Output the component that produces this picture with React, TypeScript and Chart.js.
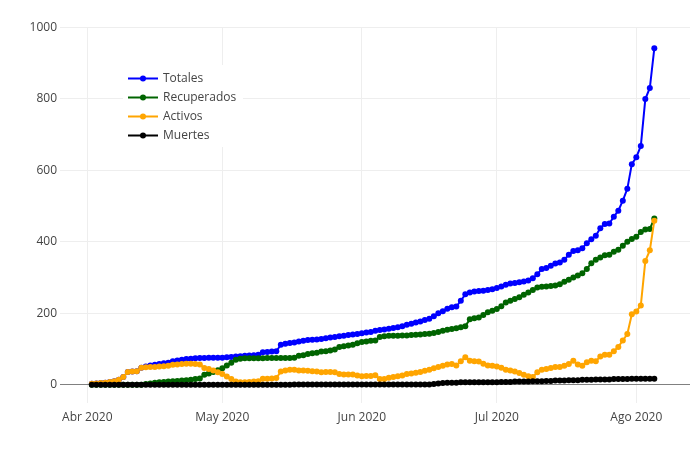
import React, { useEffect, useRef } from 'react';
import { Chart, registerables } from 'chart.js';

Chart.register(...registerables);

// Daily series starting on START_DATE (one value per day)
const START_DATE = '2020-04-02';

const totales = [
  3, 4, 5, 6, 8, 10, 14, 22, 36, 37,
  38, 48, 51, 54, 56, 58, 60, 62, 66, 68,
  70, 72, 73, 74, 75, 75, 76, 76, 76, 76,
  77, 78, 79, 80, 81, 82, 83, 84, 91, 92,
  93, 94, 112, 115, 117, 118, 121, 123, 125, 126,
  127, 128, 130, 132, 134, 136, 137, 139, 141, 142,
  144, 146, 148, 151, 153, 155, 157, 159, 161, 164,
  168, 171, 174, 177, 181, 185, 192, 200, 206, 213,
  217, 219, 235, 253, 258, 261, 262, 263, 265, 267,
  271, 275, 280, 283, 285, 287, 289, 292, 298, 309,
  324, 327, 333, 339, 342, 350, 364, 374, 376, 382,
  396, 407, 417, 438, 450, 451, 470, 487, 515, 548,
  617, 636, 668, 799, 830, 941,
];

const recuperados = [
  0, 0, 0, 0, 0, 0, 0, 0, 0, 0,
  0, 0, 2, 4, 6, 7, 8, 9, 10, 11,
  12, 13, 14, 16, 18, 28, 32, 36, 41, 46,
  54, 62, 70, 73, 74, 74, 74, 74, 74, 75,
  75, 75, 75, 75, 75, 76, 81, 83, 86, 88,
  90, 93, 94, 96, 99, 106, 108, 110, 112, 116,
  120, 121, 123, 124, 134, 136, 137, 137, 137, 138,
  138, 139, 140, 141, 142, 143, 145, 148, 151, 154,
  156, 158, 161, 164, 183, 186, 188, 195, 203, 207,
  212, 220, 230, 235, 240, 245, 252, 258, 265, 272,
  274, 275, 276, 278, 281, 288, 294, 300, 306, 312,
  324, 340, 350, 356, 362, 364, 372, 378, 389, 400,
  408, 414, 427, 434, 436, 465,
];

const activos = [
  3, 4, 5, 6, 8, 10, 14, 22, 36, 37,
  38, 48, 49, 50, 50, 51, 52, 53, 56, 57,
  58, 59, 59, 58, 57, 47, 44, 40, 35, 30,
  23, 16, 9, 7, 7, 8, 9, 10, 17, 17,
  18, 19, 37, 40, 42, 42, 40, 40, 39, 38,
  37, 35, 36, 36, 35, 30, 29, 29, 29, 26,
  24, 25, 25, 27, 16, 16, 20, 22, 24, 26,
  30, 32, 34, 36, 39, 42, 46, 50, 53, 57,
  58, 54, 66, 77, 67, 66, 65, 59, 54, 53,
  51, 48, 42, 40, 37, 33, 28, 24, 22, 35,
  42, 44, 47, 50, 50, 53, 58, 67, 57, 53,
  63, 67, 66, 79, 84, 84, 94, 106, 124, 142,
  197, 205, 222, 346, 376, 459,
];

const muertes = [
  0, 0, 0, 0, 0, 0, 0, 0, 0, 0,
  0, 0, 0, 0, 0, 0, 0, 0, 0, 0,
  0, 0, 0, 0, 0, 0, 0, 0, 0, 0,
  0, 0, 0, 0, 0, 0, 0, 0, 0, 0,
  0, 0, 0, 0, 0, 1, 1, 1, 1, 1,
  1, 1, 1, 1, 1, 1, 1, 1, 1, 1,
  1, 1, 1, 1, 1, 1, 1, 1, 1, 1,
  1, 1, 1, 1, 1, 1, 2, 4, 5, 6,
  6, 6, 7, 7, 7, 7, 7, 7, 7, 7,
  7, 8, 8, 8, 9, 9, 9, 9, 10, 10,
  10, 11, 11, 12, 12, 12, 13, 13, 13, 14,
  14, 14, 15, 15, 15, 15, 16, 16, 16, 16,
  17, 17, 17, 17, 17, 17,
];

const seriesNames = ['Totales', 'Recuperados', 'Activos', 'Muertes'];
const seriesColors = ['#0000ff', '#006400', '#ffa500', '#000000'];

const monthTickDates = ['2020-04-01', '2020-05-01', '2020-06-01', '2020-07-01', '2020-08-01'];
const monthTickLabels = ['Abr 2020', 'May 2020', 'Jun 2020', 'Jul 2020', 'Ago 2020'];
const yTickValues = [0, 200, 400, 600, 800, 1000];

// axis ranges (days since 2020-04-01 on x)
const X_MIN = -6.07;
const X_MAX = 133.93;
const Y_MIN = -50;
const Y_MAX = 1000;

const ORIGIN = Date.UTC(2020, 3, 1);
const DAY = 86400000;
const dayOf = (iso: string) => (Date.parse(iso + 'T00:00:00Z') - ORIGIN) / DAY;

const FONT = '"Open Sans", "DejaVu Sans", sans-serif';

const legendPlugin = {
  id: 'plotlyLegend',
  afterDraw(chart: any) {
    const ctx = chart.ctx as CanvasRenderingContext2D;
    ctx.save();
    ctx.fillStyle = '#ffffff';
    ctx.fillRect(123, 65, 120, 82);
    seriesNames.forEach((name, k) => {
      const y = 78.5 + 19 * k;
      ctx.strokeStyle = seriesColors[k];
      ctx.lineWidth = 2;
      ctx.beginPath();
      ctx.moveTo(128, y);
      ctx.lineTo(158, y);
      ctx.stroke();
      ctx.fillStyle = seriesColors[k];
      ctx.beginPath();
      ctx.arc(143, y, 3, 0, Math.PI * 2);
      ctx.fill();
      ctx.fillStyle = '#444444';
      ctx.font = `12px ${FONT}`;
      ctx.textBaseline = 'middle';
      ctx.textAlign = 'left';
      ctx.fillText(name, 163, y + 0.5);
    });
    ctx.restore();
  },
};

export default function App() {
  const canvasRef = useRef<HTMLCanvasElement | null>(null);

  useEffect(() => {
    const canvas = canvasRef.current;
    if (!canvas) return;
    const start = dayOf(START_DATE);
    const allSeries = [totales, recuperados, activos, muertes];
    const datasets = allSeries.map((vals, k) => ({
      label: seriesNames[k],
      data: vals.map((v, i) => ({ x: start + i, y: v })),
      borderColor: seriesColors[k],
      backgroundColor: seriesColors[k],
      pointBackgroundColor: seriesColors[k],
      pointBorderWidth: 0,
      pointRadius: 3,
      borderWidth: 2,
      tension: 0,
      fill: false,
      order: allSeries.length - 1 - k,
    }));
    const tickVals = monthTickDates.map(dayOf);

    const chart = new Chart(canvas, {
      type: 'line',
      data: { datasets },
      plugins: [legendPlugin],
      options: {
        responsive: false,
        animation: false,
        parsing: false as any,
        layout: { padding: { top: 27.2, right: 10, bottom: 0, left: 0 } },
        plugins: { legend: { display: false }, tooltip: { enabled: false } },
        scales: {
          x: {
            type: 'linear',
            min: X_MIN,
            max: X_MAX,
            afterBuildTicks: (s: any) => {
              s.ticks = tickVals.map((v) => ({ value: v }));
            },
            afterFit: (s: any) => {
              s.height = 47.3;
            },
            grid: { color: '#eeeeee', lineWidth: 1, drawTicks: false },
            border: { display: false },
            ticks: {
              autoSkip: false,
              maxRotation: 0,
              padding: 7.5,
              color: '#444444',
              font: { family: FONT, size: 12 },
              callback: (_v: any, idx: number) => monthTickLabels[idx],
            },
          },
          y: {
            type: 'linear',
            min: Y_MIN,
            max: Y_MAX,
            afterBuildTicks: (s: any) => {
              s.ticks = yTickValues.map((v) => ({ value: v }));
            },
            afterFit: (s: any) => {
              s.width = 60;
            },
            grid: {
              color: (c: any) => (c.tick && c.tick.value === 0 ? '#808080' : '#eeeeee'),
              lineWidth: 1,
              drawTicks: false,
            },
            border: { display: false },
            ticks: {
              padding: 3,
              color: '#444444',
              font: { family: FONT, size: 12 },
              callback: (v: any) => String(v),
            },
          },
        },
      },
    });
    return () => chart.destroy();
  }, []);

  return (
    <div style={{ position: 'absolute', left: 0, top: 0, width: 700, height: 450, background: '#fff' }}>
      <canvas ref={canvasRef} width={700} height={450} style={{ display: 'block' }} />
    </div>
  );
}
